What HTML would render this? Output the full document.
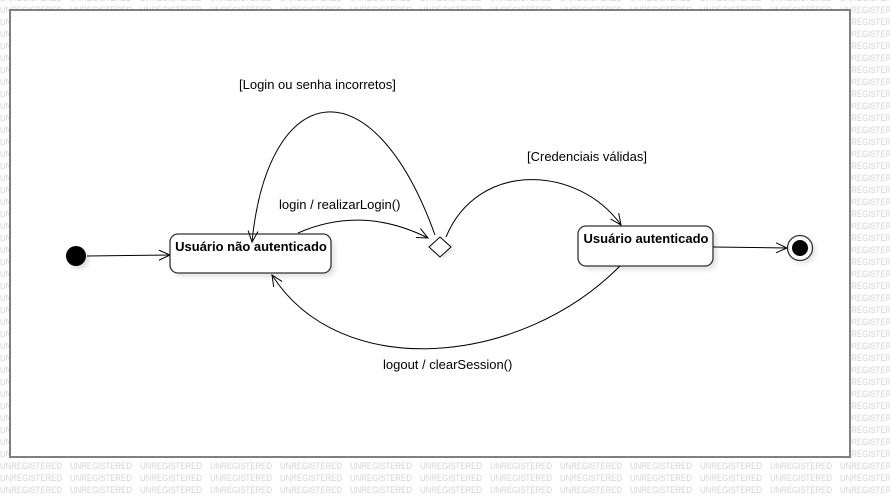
<!DOCTYPE html>
<html><head><meta charset="utf-8"><style>
html,body{margin:0;padding:0;background:#fff;}
svg{display:block;font-family:"Liberation Sans",sans-serif;}
</style></head><body>
<svg width="890" height="498" viewBox="0 0 890 498" xmlns="http://www.w3.org/2000/svg">
<defs>
<pattern id="wm" x="0" y="1" width="70" height="12" patternUnits="userSpaceOnUse">
<text x="0" y="12" font-size="9" fill="#d4d4d4" textLength="62" lengthAdjust="spacingAndGlyphs">UNREGISTERED</text>
</pattern>
<marker id="ar" markerWidth="14" markerHeight="12" refX="12" refY="6" orient="auto" markerUnits="userSpaceOnUse">
<path d="M1,1 L12,6 L1,11" fill="none" stroke="#000" stroke-width="1"/>
</marker>
<filter id="sh" x="-20%" y="-20%" width="150%" height="160%"><feGaussianBlur stdDeviation="2"/></filter>
</defs>
<rect x="0" y="0" width="890" height="498" fill="url(#wm)"/>
<rect x="10" y="10" width="840" height="447" fill="#fff" stroke="#808080" stroke-width="2"/>

<circle cx="79" cy="259" r="10" fill="#ddd" filter="url(#sh)"/>
<circle cx="76" cy="256" r="10" fill="#000"/>
<line x1="87" y1="256" x2="170" y2="255" stroke="#000" marker-end="url(#ar)"/>

<rect x="174" y="238" width="161" height="39" rx="8" fill="#e4e4e4" filter="url(#sh)"/>
<rect x="170" y="234" width="161" height="39" rx="8" fill="#fff" stroke="#333" stroke-width="1.3"/>
<text x="251" y="251" font-size="13" font-weight="bold" text-anchor="middle">Usuário não autenticado</text>

<rect x="582" y="230" width="135" height="40" rx="8" fill="#e4e4e4" filter="url(#sh)"/>
<rect x="578" y="226" width="135" height="40" rx="8" fill="#fff" stroke="#333" stroke-width="1.3"/>
<text x="646" y="243" font-size="13" font-weight="bold" text-anchor="middle">Usuário autenticado</text>

<circle cx="803" cy="251" r="13" fill="#e4e4e4" filter="url(#sh)"/>
<circle cx="800" cy="248" r="12.5" fill="#fff" stroke="#333" stroke-width="1.3"/>
<circle cx="800" cy="248" r="8" fill="#000"/>
<line x1="713" y1="247" x2="787" y2="248" stroke="#000" marker-end="url(#ar)"/>

<path d="M443,241 L454,250 L443,259 L432,250 Z" fill="#e4e4e4" filter="url(#sh)"/>
<path d="M440,237 L451,247 L440,257 L429,247 Z" fill="#fff" stroke="#000" stroke-width="1"/>

<path d="M298,233 Q362,205 428,238" fill="none" stroke="#000" marker-end="url(#ar)"/>
<text x="279" y="209" font-size="13">login / realizarLogin()</text>

<path d="M435,235 C372,60 268,80 252,242" fill="none" stroke="#000" marker-end="url(#ar)"/>
<text x="239" y="89" font-size="13">[Login ou senha incorretos]</text>

<path d="M446,237 C478,160 578,165 621,225" fill="none" stroke="#000" marker-end="url(#ar)"/>
<text x="527" y="161" font-size="13">[Credenciais válidas]</text>

<path d="M620,266 C520,367 340,382 272,275" fill="none" stroke="#000" marker-end="url(#ar)"/>
<text x="383" y="369" font-size="13">logout / clearSession()</text>
</svg>
</body></html>
